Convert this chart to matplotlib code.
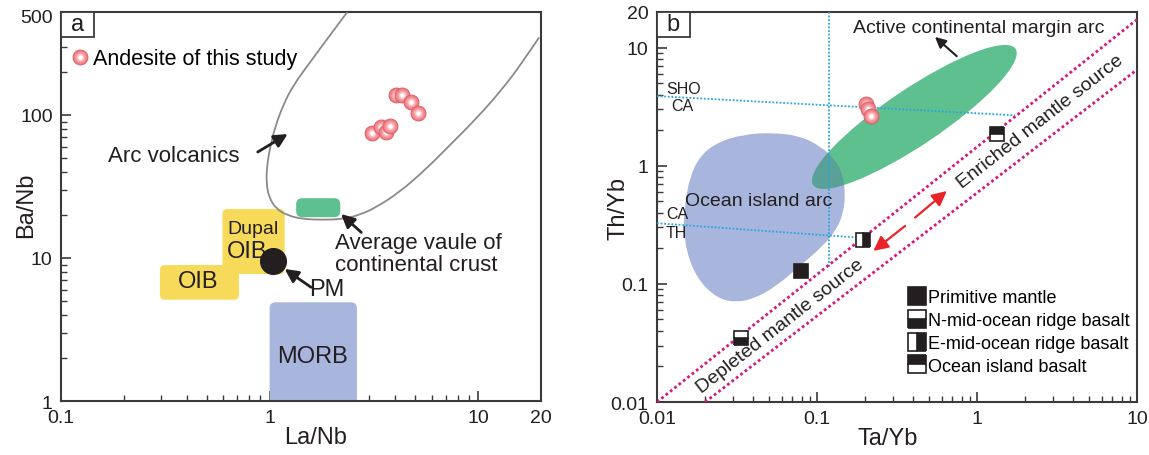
import matplotlib
matplotlib.use("Agg")
import matplotlib.pyplot as plt
import numpy as np
from matplotlib.legend_handler import HandlerTuple
from matplotlib.lines import Line2D
from matplotlib.patches import FancyBboxPatch, PathPatch, Rectangle
from matplotlib.path import Path
from matplotlib.ticker import NullFormatter

plt.rcParams["font.family"] = ["Liberation Sans", "DejaVu Sans"]

# ---------------- panel a: Ba/Nb vs La/Nb ----------------
and_a_lanb = [4.04, 4.31, 4.76, 5.12, 3.10, 3.42, 3.62, 3.78]
and_a_banb = [138, 139, 123, 103, 74.8, 82, 75.7, 83.4]

# outline of the arc volcanics field
arc_lanb = [2.354, 1.937, 1.583, 1.292, 1.158, 1.068, 1.008, 0.971, 0.964, 0.992,
            1.076, 1.224, 1.443, 1.799, 2.243, 2.695, 3.239, 4.188, 5.62, 7.264,
            9.75, 13.07, 16.29, 19.58]
arc_banb = [523, 358, 240, 160, 116, 84.2, 61.0, 44.2, 33.8, 26.6,
            22.0, 19.8, 18.7, 18.5, 18.7, 20.0, 22.6, 28.8, 41.9, 61.0,
            93.8, 152, 234, 349]

dupal_lanb = (0.594, 1.18)
dupal_banb = (7.73, 22.0)
oib_lanb = (0.298, 0.713)
oib_banb = (5.11, 8.93)
crust_lanb = (1.34, 2.18)
crust_banb = (19.3, 26.2)
morb_lanb = (1.0, 2.62)
morb_banb = (0.8, 4.90)
pm_lanb, pm_banb = 1.04, 9.58

# ---------------- panel b: Th/Yb vs Ta/Yb ----------------
and_b_tayb = [0.201, 0.208, 0.217]
and_b_thyb = [3.30, 3.00, 2.65]

# outline of the ocean island arc field
oia_tayb = [0.0150, 0.0146, 0.0157, 0.0186, 0.0236, 0.030, 0.040, 0.056, 0.0783,
            0.109, 0.133, 0.146, 0.150, 0.146, 0.130, 0.1045, 0.0783, 0.0533,
            0.0346, 0.0236, 0.0186, 0.0161]
oia_thyb = [0.488, 0.290, 0.162, 0.103, 0.0767, 0.0697, 0.0743, 0.0961, 0.142,
            0.209, 0.290, 0.402, 0.555, 0.818, 1.133, 1.468, 1.782, 1.905,
            1.842, 1.567, 1.208, 0.818]

# active continental margin arc ellipse: centre, end of long axis, end of short axis
acm_center = (0.406, 2.59)
acm_tip = (1.74, 9.77)
acm_side = (0.51, 1.65)

# mantle array boundaries
upper_tayb, upper_thyb = [0.01, 10], [0.01, 17.3]
lower_tayb, lower_thyb = [0.02, 10], [0.01, 6.5]

# SHO/CA/TH dividers
vert_tayb, vert_thyb = [0.119, 0.119], [20, 0.138]
sho_tayb, sho_thyb = [0.01, 1.73], [3.88, 2.67]
th_tayb, th_thyb = [0.01, 0.177], [0.326, 0.247]

ref_names = ["Primitive mantle", "N-mid-ocean ridge basalt",
             "E-mid-ocean ridge basalt", "Ocean island basalt"]
ref_tayb = [0.0798, 0.0334, 0.1945, 1.34]
ref_thyb = [0.129, 0.0346, 0.2355, 1.84]
ref_fill = ["full", "bottom", "right", "top"]

INK = "#231f20"
SPINE = "#3a3a3a"
PINK_EDGE = "#df5f67"
PINK_SHADES = ["#ee7c82", "#f08a90", "#f3a3a7", "#f8c6c8", "#ffffff"]
PINK_SIZES = [1.0, 0.7, 0.45, 0.24, 0.09]
YELLOW = "#f8da5b"
GREEN = "#5ebf8f"
BLUE = "#a8b5dc"
CYAN = "#2ba6dc"
MAGENTA = "#d4197f"


def smooth_path(xs, ys, closed=False):
    # quadratic beziers with read points as controls, geometric midpoints on curve
    pts = list(zip(xs, ys))
    mid = lambda p, q: (np.sqrt(p[0] * q[0]), np.sqrt(p[1] * q[1]))
    n = len(pts)
    if closed:
        verts = [mid(pts[-1], pts[0])]
        codes = [Path.MOVETO]
        for i in range(n):
            verts += [pts[i], mid(pts[i], pts[(i + 1) % n])]
            codes += [Path.CURVE3, Path.CURVE3]
        return Path(verts, codes)
    verts = [pts[0]]
    codes = [Path.MOVETO]
    for i in range(1, n - 1):
        end = mid(pts[i], pts[i + 1]) if i < n - 2 else pts[-1]
        verts += [pts[i], end]
        codes += [Path.CURVE3, Path.CURVE3]
    return Path(verts, codes)


def log_ellipse(center, tip, side):
    c = np.log10(center)
    u = np.log10(tip) - c
    v = np.log10(side) - c
    circ = Path.unit_circle()
    verts = c + np.outer(circ.vertices[:, 0], u) + np.outer(circ.vertices[:, 1], v)
    return Path(10 ** verts, circ.codes)


def rounded_box(ax, xs, ys, color, radius_px, z=2):
    bb = ax.get_window_extent()
    tr = ax.transData + ax.transAxes.inverted()
    (x0, y0), (x1, y1) = tr.transform([(xs[0], ys[0]), (xs[1], ys[1])])
    box = FancyBboxPatch((x0, y0), x1 - x0, y1 - y0,
                         boxstyle=f"round,pad=0,rounding_size={radius_px / bb.width}",
                         mutation_aspect=bb.width / bb.height,
                         transform=ax.transAxes, fc=color, ec="none", zorder=z)
    ax.add_patch(box)


def andesite(ax, xs, ys, s=115):
    for i, (x, y) in enumerate(zip(xs, ys)):
        z = 6 + i * 0.01
        for j, (c, f) in enumerate(zip(PINK_SHADES, PINK_SIZES)):
            ax.scatter([x], [y], s=s * f, color=c, linewidth=0.7 if j == 0 else 0,
                       edgecolor=PINK_EDGE, zorder=z + j * 0.001)


def style_axes(ax):
    for sp in ax.spines.values():
        sp.set_color(SPINE)
        sp.set_linewidth(1.5)
    ax.tick_params(which="major", direction="in", length=7, width=1.2, color=SPINE,
                   labelsize=14, labelcolor=INK, pad=6)
    ax.tick_params(which="minor", direction="in", length=4, width=1.0, color=SPINE)
    ax.xaxis.set_minor_formatter(NullFormatter())
    ax.yaxis.set_minor_formatter(NullFormatter())


def panel_tag(ax, tag):
    bb = ax.get_window_extent()
    w, h = 33 / bb.width, 25 / bb.height
    ax.add_patch(Rectangle((0, 1 - h), w, h, transform=ax.transAxes, fc="white",
                           ec=SPINE, lw=1.3, zorder=10, clip_on=False))
    ax.text(w / 2, 1 - h / 2, tag, transform=ax.transAxes, ha="center", va="center",
            fontsize=17, color=INK, zorder=11)


fig = plt.figure(figsize=(11.49, 4.56), dpi=100)
ax1 = fig.add_axes([0.0531, 0.1184, 0.4178, 0.8531])
ax2 = fig.add_axes([0.5718, 0.1162, 0.4178, 0.8553])

# ---------------- panel a ----------------
ax1.set_xscale("log")
ax1.set_yscale("log")
ax1.set_xlim(0.1, 20)
ax1.set_ylim(1, 525)
style_axes(ax1)
ax1.set_xticks([0.1, 1, 10, 20], labels=["0.1", "1", "10", "20"])
ax1.set_yticks([1, 10, 100, 500], labels=["1", "10", "100", "500"])

ax1.add_patch(PathPatch(smooth_path(arc_lanb, arc_banb), fc="none", ec="#8a8a8a", lw=1.3, zorder=3))
rounded_box(ax1, dupal_lanb, dupal_banb, YELLOW, 5)
rounded_box(ax1, oib_lanb, oib_banb, YELLOW, 5)
rounded_box(ax1, crust_lanb, crust_banb, GREEN, 6)
rounded_box(ax1, morb_lanb, morb_banb, BLUE, 6)
ax1.plot([pm_lanb], [pm_banb], "o", ms=18.5, color=INK, zorder=5)
andesite(ax1, and_a_lanb, and_a_banb)

arrow = dict(arrowstyle="-|>", color=INK, lw=2, mutation_scale=20, shrinkA=0, shrinkB=0)
ax1.annotate("", xy=(1.22, 73.6), xytext=(0.877, 55.1), arrowprops=arrow, zorder=7)
ax1.annotate("", xy=(2.20, 20.3), xytext=(2.75, 15.1), arrowprops=arrow, zorder=7)
ax1.annotate("", xy=(1.18, 8.38), xytext=(1.58, 6.24), arrowprops=arrow, zorder=7)

ax1.text(0.718, 51.7, "Arc volcanics", ha="right", va="center", fontsize=16, color=INK)
ax1.text(2.05, 10.7, "Average vaule of\ncontinental crust", ha="left", va="center",
         fontsize=16, color=INK, linespacing=1.05)
ax1.text(1.55, 6.07, "PM", ha="left", va="center", fontsize=17, color=INK)
ax1.text(0.835, 16.2, "Dupal", ha="center", va="center", fontsize=14, color=INK, zorder=4)
ax1.text(0.776, 11.2, "OIB", ha="center", va="center", fontsize=17, color=INK, zorder=4)
ax1.text(0.453, 6.94, "OIB", ha="center", va="center", fontsize=17, color=INK, zorder=4)
ax1.text(1.60, 2.07, "MORB", ha="center", va="center", fontsize=17, color=INK, zorder=4)

h_and = tuple(Line2D([], [], ls="none", marker="o", ms=10.7 * np.sqrt(f), mfc=c,
                     mec=PINK_EDGE if j == 0 else "none", mew=0.7)
              for j, (c, f) in enumerate(zip(PINK_SHADES, PINK_SIZES)))
ax1.legend([h_and], ["Andesite of this study"], handler_map={tuple: HandlerTuple(ndivide=1)},
           loc="upper left", bbox_to_anchor=(0.0, 0.935), frameon=False, fontsize=15.5,
           handlelength=0.8, handletextpad=0.2, borderaxespad=0.3, borderpad=0.2)

ax1.set_xlabel("La/Nb", fontsize=17, color=INK)
ax1.set_ylabel("Ba/Nb", fontsize=17, color=INK)
ax1.xaxis.set_label_coords(0.53, -0.065)
ax1.yaxis.set_label_coords(-0.05, 0.506)
panel_tag(ax1, "a")

# ---------------- panel b ----------------
ax2.set_xscale("log")
ax2.set_yscale("log")
ax2.set_xlim(0.01, 10)
ax2.set_ylim(0.01, 20)
style_axes(ax2)
ax2.set_xticks([0.01, 0.1, 1, 10], labels=["0.01", "0.1", "1", "10"])
ax2.set_yticks([0.01, 0.1, 1, 10, 20], labels=["0.01", "0.1", "1", "10", "20"])

blob = PathPatch(smooth_path(oia_tayb, oia_thyb, closed=True), fc=BLUE, ec="none", zorder=2)
ax2.add_patch(blob)
acm = log_ellipse(acm_center, acm_tip, acm_side)
ax2.add_patch(PathPatch(acm, fc=GREEN, ec="none", zorder=2.1))
overlap = PathPatch(acm, fc="#5a9f98", ec="none", zorder=2.2)
ax2.add_patch(overlap)
overlap.set_clip_path(blob)

dots = dict(color=CYAN, lw=1.3, ls=(0, (1, 1)), zorder=3)
ax2.plot(vert_tayb, vert_thyb, **dots)
ax2.plot(sho_tayb, sho_thyb, **dots)
ax2.plot(th_tayb, th_thyb, **dots)

mag = dict(color=MAGENTA, lw=2, ls=(0, (1, 1)), zorder=3)
ax2.plot(upper_tayb, upper_thyb, **mag)
ax2.plot(lower_tayb, lower_thyb, **mag)

red = dict(arrowstyle="-|>", color="#e8242b", lw=1.6, mutation_scale=22, shrinkA=0, shrinkB=0)
ax2.annotate("", xy=(0.647, 0.611), xytext=(0.41, 0.364), arrowprops=red, zorder=4)
ax2.annotate("", xy=(0.225, 0.190), xytext=(0.355, 0.309), arrowprops=red, zorder=4)
blk = dict(arrowstyle="-|>", color=INK, lw=1.5, mutation_scale=16, shrinkA=0, shrinkB=0)
ax2.annotate("", xy=(0.546, 12.3), xytext=(0.747, 8.45), arrowprops=blk, zorder=4)

handles = []
for name, x, y, fs in zip(ref_names, ref_tayb, ref_thyb, ref_fill):
    ax2.plot([x], [y], ls="none", marker="s", ms=9.5, fillstyle=fs, mfc=INK,
             mfcalt="white", mec=INK, mew=1.2, zorder=5)
    handles.append(Line2D([], [], ls="none", marker="s", ms=12.5, fillstyle=fs, mfc=INK,
                          mfcalt="white", mec=INK, mew=1.2))
ax2.legend(handles, ref_names, loc="lower right", bbox_to_anchor=(0.985, 0.07),
           frameon=False, fontsize=13, handlelength=0.8, handletextpad=0.2,
           labelspacing=0.32, borderaxespad=0, borderpad=0)

andesite(ax2, and_b_tayb, and_b_thyb)

ax2.text(1.02, 14.8, "Active continental margin arc", ha="center", va="center", fontsize=14, color=INK)
ax2.text(0.0434, 0.503, "Ocean island arc", ha="center", va="center", fontsize=14, color=INK, zorder=4)
ax2.text(2.48, 2.39, "Enriched mantle source", ha="center", va="center", rotation=38,
         rotation_mode="anchor", fontsize=14, color=INK, zorder=4)
ax2.text(0.0587, 0.0442, "Depleted mantle source", ha="center", va="center", rotation=38,
         rotation_mode="anchor", fontsize=14, color=INK, zorder=4)
for lab, x, y in [("SHO", 0.01138, 4.51), ("CA", 0.01236, 3.24), ("CA", 0.01138, 0.396),
                  ("TH", 0.01138, 0.274)]:
    ax2.text(x, y, lab, ha="left", va="center", fontsize=11.5, color=INK, zorder=4)

ax2.set_xlabel("Ta/Yb", fontsize=17, color=INK)
ax2.set_ylabel("Th/Yb", fontsize=17, color=INK)
ax2.xaxis.set_label_coords(0.481, -0.065)
ax2.yaxis.set_label_coords(-0.057, 0.5)
panel_tag(ax2, "b")

fig.savefig("out.png", dpi=100)
